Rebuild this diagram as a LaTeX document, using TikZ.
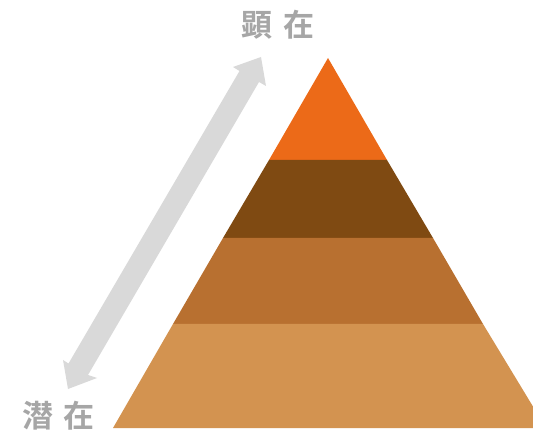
\documentclass[tikz,border=0pt]{standalone}
\usepackage{fontspec}
\newfontfamily\cjk{Noto Sans CJK JP}[BoldFont={Noto Sans CJK JP Bold}]
\tikzset{
  lbl/.style={inner sep=0pt,font=\cjk\bfseries\fontsize{31}{31}\selectfont,text=labelgray},
}
\definecolor{labelgray}{HTML}{A6A6A6}
\definecolor{arrowgray}{HTML}{D9D9D9}
\definecolor{t1}{HTML}{EC6A18}
\definecolor{t2}{HTML}{7F4A12}
\definecolor{t3}{HTML}{B87030}
\definecolor{t4}{HTML}{D39350}
\begin{document}
\begin{tikzpicture}[x=1pt,y=-1pt]
\useasboundingbox (0,0) rectangle (533,430);
\clip (0,0) rectangle (533,430);
\fill[t1] (328,58) -- (387,160) -- (269,160) -- cycle;
\fill[t2] (269,160) -- (387,160) -- (433,238) -- (223,238) -- cycle;
\fill[t3] (223,238) -- (433,238) -- (483,324) -- (173,324) -- cycle;
\fill[t4] (173,324) -- (483,324) -- (546,428) -- (113,428) -- cycle;
\fill[arrowgray] (261,57) -- (266,86) -- (259,82) -- (88,375) -- (97,378) -- (68,389) -- (63,360) -- (68.5,363.5) -- (239.5,71) -- (233,67) -- cycle;
\node[lbl] (top) at (278,25) {顕\hspace{11pt}在};
\node[lbl] (bottom) at (58.5,416) {潜\hspace{11pt}在};
\end{tikzpicture}
\end{document}
